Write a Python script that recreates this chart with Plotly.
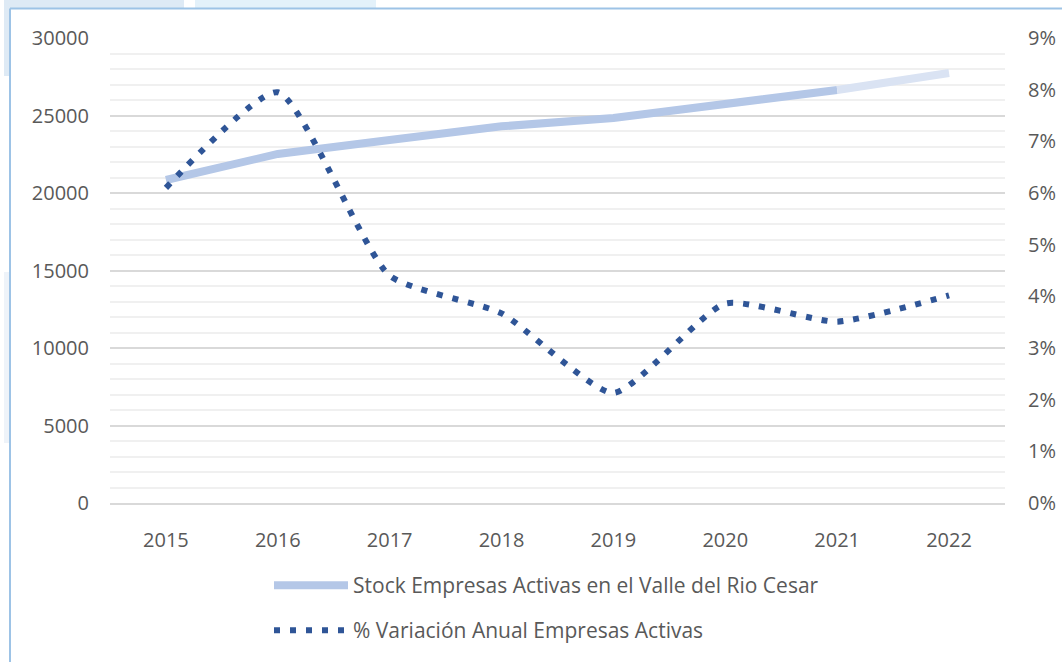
import plotly.graph_objects as go

years = [2015, 2016, 2017, 2018, 2019, 2020, 2021, 2022]
stock = [20840, 22520, 23420, 24300, 24840, 25740, 26650, 27740]
variacion = [0.0610, 0.0795, 0.0440, 0.0367, 0.0213, 0.0386, 0.0351, 0.0402]

name_stock = "Stock Empresas Activas en el Valle del Rio Cesar"
name_var = "% Variación Anual Empresas Activas"

font_family = "Open Sans, Noto Sans, sans-serif"
text_color = "#595959"

# plot area in pixels, used to place the page decorations
L, R, T, B = 110, 1005, 38, 503


def px(x):
    return (x - L) / (R - L)


def py(y):
    return (B - y) / (B - T)


fig = go.Figure()

# stock line, last year drawn lighter
fig.add_trace(go.Scatter(
    x=years[:-1], y=stock[:-1],
    mode="lines",
    line=dict(color="#b4c7e7", width=8),
    name=name_stock,
    legend="legend",
))
fig.add_trace(go.Scatter(
    x=years[-2:], y=stock[-2:],
    mode="lines",
    line=dict(color="#dae3f3", width=8),
    showlegend=False,
))

# annual variation, smoothed dotted line on secondary axis
fig.add_trace(go.Scatter(
    x=years, y=variacion,
    mode="lines",
    line=dict(color="#2f5597", width=6, dash="6px,10px", shape="spline", smoothing=0.55),
    name=name_var,
    yaxis="y2",
    legend="legend2",
))

fig.update_layout(
    width=1062, height=662,
    margin=dict(l=L, r=1062 - R, t=T, b=662 - B, autoexpand=False),
    paper_bgcolor="white",
    plot_bgcolor="white",
    font=dict(family=font_family, size=20, color=text_color),
    xaxis=dict(
        range=[2014.5, 2022.5],
        tickmode="array", tickvals=years, ticktext=[str(y) for y in years],
        showgrid=False, zeroline=False,
        showline=True, linecolor="#d9d9d9", linewidth=2,
        ticks="", ticklabelstandoff=18,
    ),
    yaxis=dict(
        range=[0, 30000], dtick=5000, tickformat="d",
        showgrid=True, gridcolor="#d9d9d9", gridwidth=2,
        minor=dict(dtick=1000, showgrid=True, gridcolor="#f0f0f0", gridwidth=2),
        zeroline=False, showline=False, ticks="",
        ticklabelstandoff=20,
    ),
    yaxis2=dict(
        range=[0, 0.09], dtick=0.01, tickformat=".0%",
        overlaying="y", side="right",
        showgrid=False, zeroline=False, showline=False, ticks="",
        ticklabelstandoff=22,
    ),
    legend=dict(
        x=px(269), y=py(565), xanchor="left", yanchor="top",
        font=dict(size=21, color=text_color), itemwidth=74,
        bgcolor="rgba(0,0,0,0)",
    ),
    legend2=dict(
        x=px(269), y=py(610), xanchor="left", yanchor="top",
        font=dict(size=21, color=text_color), itemwidth=74,
        bgcolor="rgba(0,0,0,0)",
    ),
    shapes=[
        # bits of the page behind the chart frame
        dict(type="rect", xref="paper", yref="paper",
             x0=px(4), x1=px(184), y0=py(8), y1=py(0),
             fillcolor="#deeaf5", line=dict(width=0), layer="below"),
        dict(type="rect", xref="paper", yref="paper",
             x0=px(4), x1=px(10), y0=py(76), y1=py(8),
             fillcolor="#deeaf5", line=dict(width=0), layer="below"),
        dict(type="rect", xref="paper", yref="paper",
             x0=px(195), x1=px(376), y0=py(8), y1=py(0),
             fillcolor="#e3f1fa", line=dict(width=0), layer="below"),
        dict(type="rect", xref="paper", yref="paper",
             x0=px(4), x1=px(10), y0=py(443), y1=py(272),
             fillcolor="#eef3f9", line=dict(width=0), layer="below"),
        # chart frame
        dict(type="line", xref="paper", yref="paper",
             x0=px(10), x1=px(1070), y0=py(8.5), y1=py(8.5),
             line=dict(color="#9dc3e6", width=2)),
        dict(type="line", xref="paper", yref="paper",
             x0=px(10), x1=px(10), y0=py(8.5), y1=py(670),
             line=dict(color="#9dc3e6", width=2)),
    ],
)

# drop the default body margin so the figure sits at the window corner
fig.write_html(
    "out.html",
    config={"displayModeBar": False},
    post_script="document.body.style.margin='0';",
)
